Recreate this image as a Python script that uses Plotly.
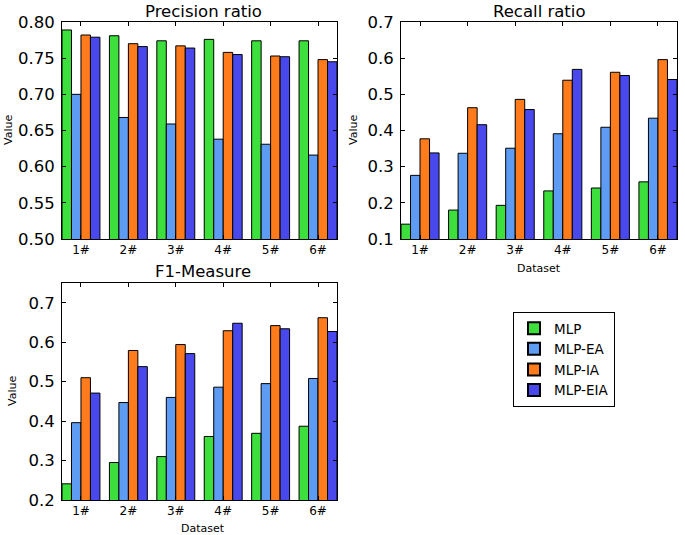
import plotly.graph_objects as go

datasets = ["1#", "2#", "3#", "4#", "5#", "6#"]
methods = ["MLP", "MLP-EA", "MLP-IA", "MLP-EIA"]
colors = ["#3ddf3d", "#5e9cf3", "#ff7b1c", "#4848ec"]

precision = {
    "MLP":     [0.789, 0.781, 0.774, 0.776, 0.774, 0.774],
    "MLP-EA":  [0.700, 0.668, 0.659, 0.638, 0.631, 0.616],
    "MLP-IA":  [0.782, 0.770, 0.767, 0.758, 0.753, 0.748],
    "MLP-EIA": [0.779, 0.766, 0.764, 0.755, 0.752, 0.745],
}
recall = {
    "MLP":     [0.141, 0.180, 0.193, 0.233, 0.241, 0.258],
    "MLP-EA":  [0.276, 0.337, 0.351, 0.391, 0.409, 0.434],
    "MLP-IA":  [0.377, 0.463, 0.486, 0.539, 0.561, 0.596],
    "MLP-EIA": [0.338, 0.416, 0.458, 0.569, 0.552, 0.541],
}
f1 = {
    "MLP":     [0.241, 0.295, 0.310, 0.361, 0.369, 0.387],
    "MLP-EA":  [0.396, 0.447, 0.460, 0.486, 0.495, 0.508],
    "MLP-IA":  [0.510, 0.579, 0.594, 0.629, 0.642, 0.662],
    "MLP-EIA": [0.471, 0.538, 0.571, 0.648, 0.634, 0.627],
}

W, H = 685, 535
FONT = "DejaVu Sans"

def dx(a, b):
    return [a / W, b / W]

def dy(top, bottom):
    return [(H - bottom) / H, (H - top) / H]

fig = go.Figure()

panels = [
    (precision, "x", "y", True),
    (recall, "x2", "y2", False),
    (f1, "x3", "y3", False),
]
for data, xa, ya, show in panels:
    for m, c in zip(methods, colors):
        fig.add_trace(go.Bar(
            x=datasets, y=data[m], name=m, xaxis=xa, yaxis=ya,
            marker=dict(color=c, line=dict(color="black", width=1)),
            showlegend=show, legendgroup=m,
        ))

axis_common = dict(
    showline=True, linecolor="black", linewidth=1, mirror="allticks",
    ticks="inside", ticklen=4, tickcolor="black", showgrid=False, zeroline=False,
    automargin=False,
)
xcommon = dict(axis_common, type="category", range=[-0.4, 5.4],
               tickfont=dict(family=FONT, size=12, color="black"))
ycommon = dict(axis_common, tickfont=dict(family=FONT, size=16.5, color="black"),
               ticklabelstandoff=3)

fig.update_layout(
    width=W, height=H,
    autosize=False,
    margin=dict(l=0, r=0, t=0, b=0, pad=0, autoexpand=False),
    paper_bgcolor="white", plot_bgcolor="white",
    barmode="group", bargap=0.2, bargroupgap=0,
    font=dict(family=FONT, color="black"),
    xaxis=dict(xcommon, domain=dx(62, 337), anchor="y"),
    yaxis=dict(ycommon, domain=dy(22, 239), anchor="x", range=[0.5, 0.8],
               dtick=0.05, tick0=0.5, tickformat=".2f"),
    xaxis2=dict(xcommon, domain=dx(401, 677), anchor="y2"),
    yaxis2=dict(ycommon, domain=dy(22, 239), anchor="x2", range=[0.1, 0.7],
                dtick=0.1, tick0=0.1, tickformat=".1f"),
    xaxis3=dict(xcommon, domain=dx(62, 337), anchor="y3"),
    yaxis3=dict(ycommon, domain=dy(283, 500), anchor="x3", range=[0.2, 0.75],
                dtick=0.1, tick0=0.2, tickformat=".1f"),
    legend=dict(
        x=513 / W, y=(H - 312) / H, xanchor="left", yanchor="top",
        bordercolor="black", borderwidth=1, bgcolor="white",
        font=dict(family=FONT, size=13.5, color="black"),
        tracegroupgap=0, itemsizing="constant",
    ),
)

def ann(text, x, y, size, angle=0):
    fig.add_annotation(text=text, x=x / W, y=(H - y) / H, xref="paper", yref="paper",
                       showarrow=False, font=dict(family=FONT, size=size, color="black"),
                       textangle=angle, xanchor="center", yanchor="middle")

ann("Precision ratio", 203, 11, 16.5)
ann("Recall ratio", 539, 11, 16.5)
ann("F1-Measure", 203, 271, 16.5)
ann("Value", 8, 130, 11, -90)
ann("Value", 353, 130, 11, -90)
ann("Value", 12, 391, 11, -90)
ann("Dataset", 539, 268, 11)
ann("Dataset", 203, 528, 11)

fig.write_html("out.html", config={"displayModeBar": False},
               post_script="document.body.style.margin='0px';")
